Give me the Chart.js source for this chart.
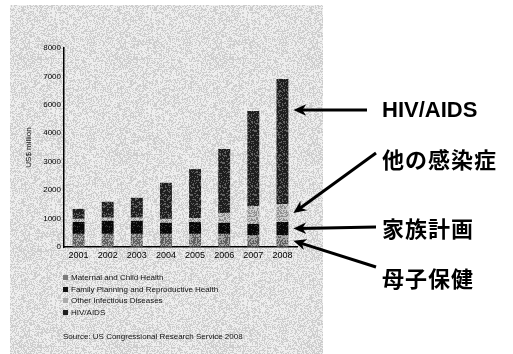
<!DOCTYPE html>
<html lang="ja">
<head>
<meta charset="utf-8">
<script src="https://cdn.jsdelivr.net/npm/chart.js@4.4.1/dist/chart.umd.min.js"></script>
<style>
  html, body { margin: 0; padding: 0; background: #fff; }
  #wrap { position: relative; width: 513px; height: 354px; overflow: hidden; }
  #panel { position: absolute; left: 10px; top: 5px; width: 313px; height: 349px; background: #dcdcdc; }
  #chart { position: absolute; left: 0; top: 0; }
  #legend { position: absolute; left: 63px; top: 272px; font: 8px "Liberation Sans", Arial, sans-serif; color: #111; }
  #legend div { height: 11.5px; line-height: 11.5px; white-space: nowrap; }
  #legend span { display: inline-block; width: 5px; height: 5px; margin-right: 3px; vertical-align: 0px; }
  #source { position: absolute; left: 63px; top: 332px; font: 8px "Liberation Sans", Arial, sans-serif; color: #111; white-space: nowrap; }
  .note { position: absolute; left: 382px; transform: translateY(-50%); font-weight: bold; color: #000; white-space: nowrap; }
  .note.latin { font: bold 22px "Liberation Sans", Arial, sans-serif; }
  .note.jp { font: bold 22px "Noto Sans CJK JP", sans-serif; letter-spacing: 1px; }
</style>
</head>
<body>
<div id="wrap">
  <div id="panel"></div>
  <canvas id="chart" width="513" height="354"></canvas>
  <div id="legend"></div>
  <div id="source"></div>
</div>
<script>
// US global health funding by sector, US$ million
const years = ['2001', '2002', '2003', '2004', '2005', '2006', '2007', '2008'];
const maternalChild = [460, 460, 460, 460, 460, 460, 420, 420];
const familyPlanning = [420, 460, 460, 390, 420, 390, 390, 460];
const otherInfectious = [110, 110, 110, 140, 140, 350, 630, 630];
const hivAids = [350, 560, 700, 1270, 1720, 2250, 3340, 4400];

const seriesNames = ['Maternal and Child Health', 'Family Planning and Reproductive Health', 'Other Infectious Diseases', 'HIV/AIDS'];
const yTickLabels = ['0', '1000', '2000', '3000', '4000', '6000', '7000', '8000'];
const sourceText = 'Source: US Congressional Research Service 2008';

// Japanese callouts, top to bottom, with the dataset each one points at
const notes = ['HIV/AIDS', '他の感染症', '家族計画', '母子保健'];
const noteSeries = [3, 2, 1, 0];

// small seeded generator, only used for the printed-grain texture
let seed = 12345;
function rand() {
  seed = (seed * 16807) % 2147483647;
  return seed / 2147483647;
}

function grainCanvas(lo, hi, p, size) {
  const c = document.createElement('canvas');
  c.width = c.height = size;
  const g = c.getContext('2d');
  const img = g.createImageData(size, size);
  for (let i = 0; i < size * size; i++) {
    const v = rand() < p ? hi : lo;
    img.data[i * 4] = img.data[i * 4 + 1] = img.data[i * 4 + 2] = v;
    img.data[i * 4 + 3] = 255;
  }
  g.putImageData(img, 0, 0);
  return c;
}

const ctx = document.getElementById('chart').getContext('2d');
const fills = [
  ctx.createPattern(grainCanvas(95, 165, 0.45, 32), 'repeat'),   // maternal & child
  ctx.createPattern(grainCanvas(8, 55, 0.15, 32), 'repeat'),     // family planning
  ctx.createPattern(grainCanvas(145, 205, 0.5, 32), 'repeat'),   // other infectious
  ctx.createPattern(grainCanvas(30, 95, 0.3, 32), 'repeat')      // HIV/AIDS
];
const swatches = ['#7a7a7a', '#111', '#aaa', '#222'];

document.getElementById('panel').style.backgroundImage = 'url(' + grainCanvas(206, 238, 0.55, 96).toDataURL() + ')';

// legend and source line
const legend = document.getElementById('legend');
seriesNames.forEach((name, i) => {
  const row = document.createElement('div');
  const sw = document.createElement('span');
  sw.style.background = swatches[i];
  row.appendChild(sw);
  row.appendChild(document.createTextNode(name));
  legend.appendChild(row);
});
document.getElementById('source').textContent = sourceText;

// callout labels on the right
const noteY = [110, 158, 227, 277];
const arrowTails = [[367, 110], [376, 153], [376, 227], [376, 267]];
notes.forEach((text, i) => {
  const el = document.createElement('div');
  el.className = 'note ' + (i === 0 ? 'latin' : 'jp');
  el.style.top = noteY[i] + 'px';
  el.textContent = text;
  document.getElementById('wrap').appendChild(el);
});

function drawArrow(c, x1, y1, x2, y2) {
  const ang = Math.atan2(y2 - y1, x2 - x1);
  const len = 14, spread = 0.42;
  c.save();
  c.strokeStyle = '#000';
  c.fillStyle = '#000';
  c.lineWidth = 3;
  c.beginPath();
  c.moveTo(x1, y1);
  c.lineTo(x2 - Math.cos(ang) * 6, y2 - Math.sin(ang) * 6);
  c.stroke();
  c.beginPath();
  c.moveTo(x2, y2);
  c.lineTo(x2 - len * Math.cos(ang - spread), y2 - len * Math.sin(ang - spread));
  c.lineTo(x2 - 9 * Math.cos(ang), y2 - 9 * Math.sin(ang));
  c.lineTo(x2 - len * Math.cos(ang + spread), y2 - len * Math.sin(ang + spread));
  c.closePath();
  c.fill();
  c.restore();
}

// arrows from each callout to its segment of the last bar
const arrowPlugin = {
  id: 'calloutArrows',
  afterDraw(chart) {
    const last = years.length - 1;
    noteSeries.forEach((ds, i) => {
      const bar = chart.getDatasetMeta(ds).data[last].getProps(['x', 'y', 'base', 'width'], true);
      const tipX = bar.x + bar.width / 2 + 5;
      const tipY = i === 0 ? arrowTails[i][1] : (bar.y + bar.base) / 2;
      drawArrow(chart.ctx, arrowTails[i][0], arrowTails[i][1], tipX, tipY);
    });
  }
};

const seriesData = [maternalChild, familyPlanning, otherInfectious, hivAids];

new Chart(ctx, {
  type: 'bar',
  data: {
    labels: years,
    datasets: seriesData.map((d, i) => ({
      label: seriesNames[i],
      data: d,
      backgroundColor: fills[i],
      borderWidth: 0,
      categoryPercentage: 1,
      barPercentage: 0.41
    }))
  },
  options: {
    responsive: false,
    animation: false,
    layout: { padding: { left: 0, top: 48, right: 216, bottom: 87 } },
    plugins: { legend: { display: false }, tooltip: { enabled: false } },
    scales: {
      x: {
        stacked: true,
        afterFit: s => { s.height = 20; },
        grid: { drawOnChartArea: false, drawTicks: false },
        border: { color: '#000', width: 1.5 },
        ticks: { color: '#000', padding: 3, font: { family: 'Liberation Sans', size: 9 } }
      },
      y: {
        stacked: true,
        min: 0,
        max: 7000,
        afterFit: s => { s.width = 64; },
        grid: { drawOnChartArea: false, drawTicks: false },
        border: { color: '#000', width: 1.5 },
        ticks: {
          stepSize: 1000,
          color: '#000',
          padding: 3,
          font: { family: 'Liberation Sans', size: 8 },
          callback: (v, i) => yTickLabels[i]
        },
        title: {
          display: true,
          text: 'US$ million',
          color: '#111',
          font: { family: 'Liberation Sans', size: 8 },
          padding: { top: 24, bottom: 0 }
        }
      }
    }
  },
  plugins: [arrowPlugin]
});
</script>
</body>
</html>
